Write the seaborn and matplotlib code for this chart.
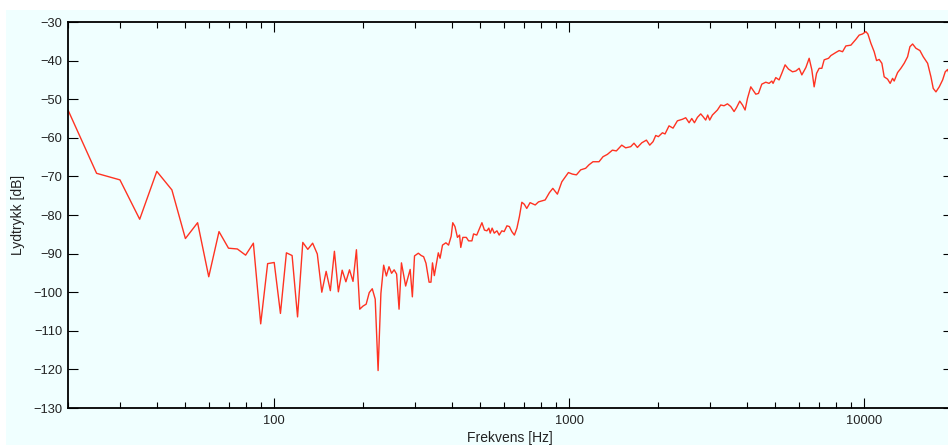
import numpy as np
import pandas as pd
import matplotlib
matplotlib.use("Agg")
import matplotlib.pyplot as plt
import seaborn as sns
from matplotlib.ticker import FixedLocator, FuncFormatter, LogLocator, NullFormatter
from matplotlib.patches import Rectangle

# ---------------- data ----------------
f_low = [20, 25, 30, 35, 40, 45, 50, 55, 60, 65, 70, 75, 80, 85, 90, 95, 100,
         105, 110, 115, 120, 125, 130, 135, 140, 145, 150, 155, 160, 165, 170,
         175, 180, 185, 190, 195, 200, 205, 210, 215, 220, 225, 230, 235, 240,
         245, 250, 255, 260, 265, 270]
db_low = [-52.8, -69.2, -70.9, -81.1, -68.7, -73.5, -86.1, -82.0, -96.0, -84.3,
          -88.6, -88.8, -90.4, -87.3, -108.2, -92.6, -92.3, -105.5, -89.8, -90.5,
          -106.4, -87.1, -88.9, -87.3, -90.1, -100.0, -94.6, -99.6, -89.4, -99.9,
          -94.3, -97.3, -94.2, -97.2, -89.0, -104.4, -103.6, -103.1, -100.1, -99.1,
          -101.8, -120.3, -100.3, -93.0, -95.8, -93.4, -95.1, -94.2, -95.3, -104.4,
          -92.4]

f_mid = [279, 289, 294, 299, 308, 315, 321, 327, 335, 340, 344, 349, 360, 365,
         372, 382, 390, 398, 403, 410, 418, 425, 429, 436, 448, 456, 468, 474,
         486, 506, 516, 526, 534, 540, 548, 557, 569, 579, 591, 602, 615, 627,
         639, 652, 665, 678, 691, 704, 718, 737, 767, 787, 829, 857, 880, 912,
         944, 969, 994, 1025, 1058, 1094, 1137, 1167, 1204, 1262, 1302, 1347,
         1401, 1445, 1507, 1554, 1616, 1658, 1703, 1762, 1827, 1875, 1924, 1965,
         2006, 2070, 2113, 2180, 2249, 2327, 2420, 2483, 2549, 2603, 2658, 2721,
         2792, 2842, 2902, 2948, 2994, 3058]
db_mid = [-98.4, -94.1, -101.2, -90.6, -89.9, -90.5, -90.8, -92.5, -97.4, -97.4,
          -92.4, -95.7, -89.8, -91.2, -87.8, -87.2, -87.8, -85.5, -82.0, -83.0,
          -85.8, -85.2, -88.4, -85.8, -85.8, -86.7, -86.7, -84.9, -85.2, -82.0,
          -83.9, -84.1, -83.4, -84.7, -83.4, -84.7, -84.1, -85.2, -84.1, -84.3,
          -82.8, -83.0, -84.3, -85.2, -83.4, -80.4, -76.7, -77.2, -78.3, -76.8,
          -77.4, -76.6, -76.1, -74.2, -73.1, -74.6, -71.4, -70.2, -69.0, -69.4,
          -69.6, -68.3, -67.9, -67.0, -66.2, -66.2, -64.9, -64.3, -63.2, -63.4,
          -61.9, -62.6, -62.3, -61.4, -62.5, -61.3, -60.6, -61.9, -61.0, -59.4,
          -59.7, -58.7, -59.0, -56.9, -57.5, -55.6, -55.2, -54.8, -56.1, -55.0,
          -56.1, -54.7, -53.8, -54.5, -55.4, -54.1, -55.4, -54.1]

f_high = [3180, 3263, 3348, 3439, 3529, 3622, 3690, 3786, 3867, 3947, 4021, 4126,
          4291, 4382, 4496, 4639, 4760, 4862, 4910, 5015, 5146, 5256, 5394, 5538,
          5715, 5864, 6018, 6146, 6342, 6508, 6645, 6766, 6895, 7036, 7185, 7316,
          7572, 7709, 8014, 8226, 8446, 8667, 9013, 9370, 9614, 9873, 10131, 10292,
          10534, 10810, 11015, 11240, 11480, 11688, 12001, 12247, 12480, 12636,
          12977, 13315, 13663, 14031, 14289, 14592, 14973, 15449, 15853, 16406,
          16835, 17140, 17507, 17965, 18447, 18825, 19180, 19370, 20000]
db_high = [-52.8, -51.5, -51.7, -51.2, -51.9, -53.2, -52.2, -50.5, -51.5, -52.8,
           -49.8, -46.8, -48.7, -48.5, -46.1, -45.6, -45.9, -45.3, -45.9, -44.4,
           -45.0, -43.3, -41.1, -42.2, -42.9, -42.7, -42.0, -43.7, -41.8, -39.4,
           -42.4, -46.8, -43.3, -42.0, -42.0, -39.8, -39.4, -38.7, -37.9, -37.4,
           -37.7, -36.2, -36.0, -34.5, -33.4, -33.1, -32.5, -33.1, -35.5, -37.7,
           -40.0, -39.7, -40.7, -44.2, -44.8, -45.9, -44.6, -45.3, -43.1, -42.0,
           -40.7, -39.0, -36.4, -35.7, -36.8, -37.4, -39.0, -40.7, -44.2, -47.2,
           -48.1, -46.8, -45.0, -42.9, -42.3, -43.3, -42.0]

x_ticks = [100, 1000, 10000]
y_ticks = [-130, -120, -110, -100, -90, -80, -70, -60, -50, -40, -30]
x_label = "Frekvens [Hz]"
y_label = "Lydtrykk [dB]"

df = pd.DataFrame({"freq": f_low + f_mid + f_high,
                   "db": db_low + db_mid + db_high})

# ---------------- styling ----------------
BG = "#f0ffff"
LINE = "#ff3322"
TXT = "#222222"

sns.set_theme(style="ticks")
plt.rcParams['font.family'] = ['Liberation Sans', 'DejaVu Sans']

W, H = 948, 445
fig = plt.figure(figsize=(W / 100, H / 100), dpi=100, facecolor="white")
fig.patches.append(Rectangle((6 / W, 0), 1, (H - 10) / H, transform=fig.transFigure,
                             facecolor=BG, edgecolor="none", zorder=-10))

ax_l, ax_r, ax_t, ax_b = 68, 953, 22, 408
ax = fig.add_axes([ax_l / W, (H - ax_b) / H, (ax_r - ax_l) / W, (ax_b - ax_t) / H])
ax.set_facecolor(BG)

sns.lineplot(data=df, x="freq", y="db", ax=ax, color=LINE, linewidth=1.0,
             estimator=None, sort=False, legend=False)

ax.set_xscale("log")
ax.set_xlim(20, 20000)
ax.set_ylim(-130, -30)
ax.xaxis.set_major_locator(FixedLocator(x_ticks))
ax.xaxis.set_major_formatter(FuncFormatter(lambda v, p: f"{int(round(v))}"))
ax.xaxis.set_minor_locator(LogLocator(base=10, subs=np.arange(2, 10)))
ax.xaxis.set_minor_formatter(NullFormatter())
ax.set_yticks(y_ticks)

for s in ax.spines.values():
    s.set_color("black")
    s.set_linewidth(1.3)

ax.tick_params(axis="both", which="major", direction="in", length=7, width=0.8,
               top=True, right=True, colors="black", labelcolor=TXT, labelsize=9.3)
ax.tick_params(axis="x", which="major", pad=5)
ax.tick_params(axis="y", which="major", pad=4)
ax.tick_params(axis="x", which="minor", direction="in", length=4, width=0.8,
               top=True, bottom=True, colors="black")

ax.set_xlabel(x_label, fontsize=10, color=TXT)
ax.set_ylabel(y_label, fontsize=10, color=TXT)
ax.xaxis.set_label_coords((510 - ax_l) / (ax_r - ax_l), -(431 - ax_b) / (ax_b - ax_t))
ax.yaxis.set_label_coords(-(ax_l - 25) / (ax_r - ax_l), 0.5)

fig.savefig("out.png", dpi=100, facecolor="white")
